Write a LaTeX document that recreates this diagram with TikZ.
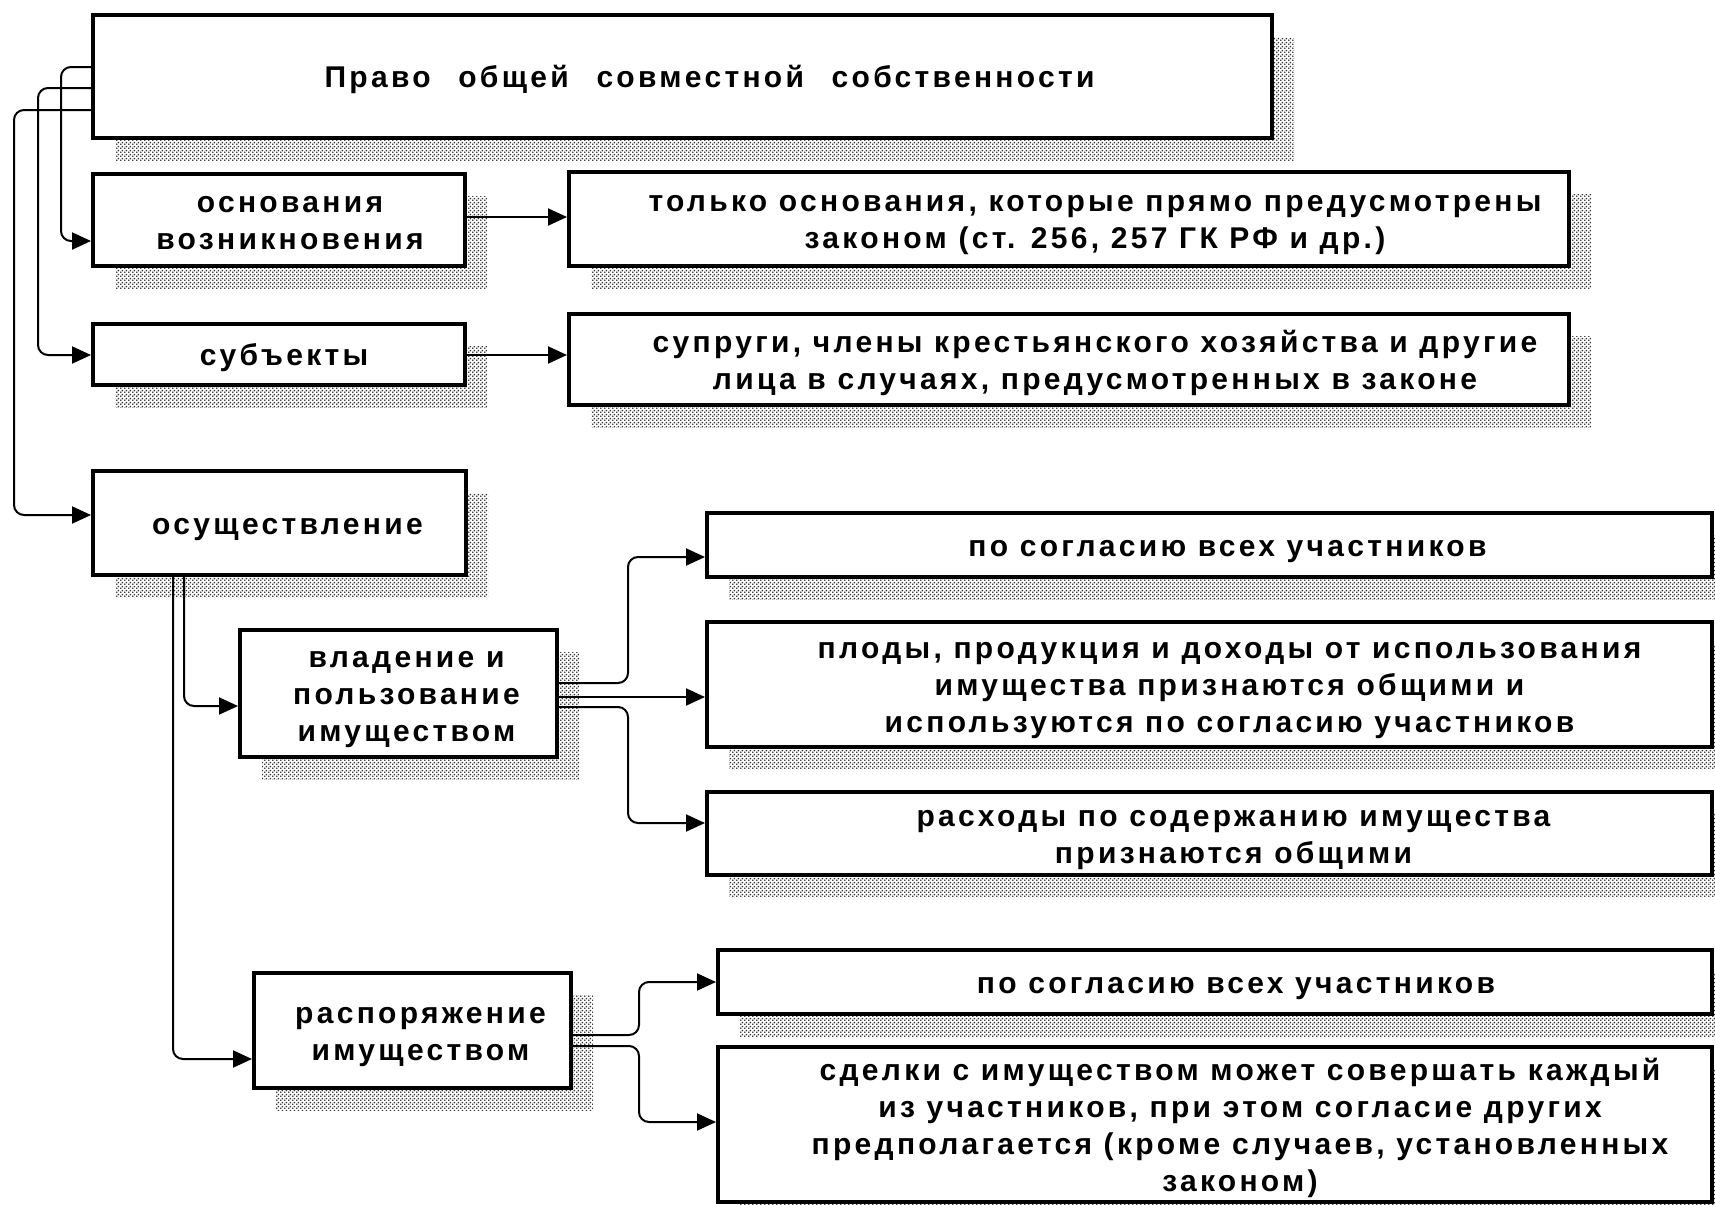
\documentclass[tikz,border=0pt]{standalone}
\usepackage{fontspec}
\setmainfont[LetterSpace=11]{Liberation Sans}
\usetikzlibrary{arrows.meta,shadows,patterns}
\newcommand\pxu{0.5pt}
\newcommand\boxtext[2][8pt]{\hspace*{#1}\raisebox{-1.9pt}[\height][\depth]{\begin{tabular}{@{}c@{}}#2\end{tabular}}}
\pgfdeclarepatternformonly{shadowdots}{\pgfpointorigin}{\pgfqpoint{2pt}{2pt}}{\pgfqpoint{2pt}{2pt}}{
  \pgfpathcircle{\pgfqpoint{0.5pt}{0.5pt}}{0.55pt}
  \pgfpathcircle{\pgfqpoint{1.5pt}{1.5pt}}{0.55pt}
  \pgfusepath{fill}}
\tikzset{
  box/.style={draw, line width=2pt, fill=white, inner sep=0pt,
    font=\fontsize{15pt}{18.5pt}\selectfont\bfseries,
    drop shadow={shadow xshift=11pt, shadow yshift=-11pt, opacity=1,
      pattern=shadowdots, pattern color=black!80}},
  link/.style={line width=1pt, rounded corners=5pt, -{Triangle[length=9.5pt,width=8.5pt]}}
}
\begin{document}
\begin{tikzpicture}[x=\pxu, y=-\pxu]
    \useasboundingbox (0,0) rectangle (1715,1205);
    \node[box, minimum width=1179*\pxu, minimum height=123*\pxu] (pravo) at (682.5,76.5) {\boxtext[27pt]{Право\hspace{8pt} общей\hspace{8pt} совместной\hspace{8pt} собственности}};
    \node[box, minimum width=372*\pxu, minimum height=92*\pxu] (osn) at (279,220) {\boxtext[11pt]{основания\\возникновения}};
    \node[box, minimum width=372*\pxu, minimum height=61*\pxu] (subj) at (279,354.5) {\boxtext[5pt]{субъекты}};
    \node[box, minimum width=1000*\pxu, minimum height=94*\pxu] (tolko) at (1069,219) {\boxtext[26pt]{только основания, которые прямо предусмотрены\\законом (ст. 256, 257 ГК РФ и др.)}};
    \node[box, minimum width=1000*\pxu, minimum height=91*\pxu] (supr) at (1069,359.5) {\boxtext[26pt]{супруги, члены крестьянского хозяйства и другие\\лица в случаях, предусмотренных в законе}};
    \node[box, minimum width=373*\pxu, minimum height=104*\pxu] (osush) at (279.5,523) {\boxtext{осуществление}};
    \node[box, minimum width=317*\pxu, minimum height=127*\pxu] (vlad) at (398.5,693.5) {\boxtext{владение и\\пользование\\имуществом}};
    \node[box, minimum width=1005*\pxu, minimum height=64*\pxu] (soglas) at (1209.5,545) {\boxtext[18pt]{по согласию всех участников}};
    \node[box, minimum width=1005*\pxu, minimum height=125*\pxu] (plody) at (1209.5,684.5) {\boxtext[20pt]{плоды, продукция и доходы от использования\\имущества признаются общими и\\используются по согласию участников}};
    \node[box, minimum width=1005*\pxu, minimum height=83*\pxu] (rask) at (1209.5,833.5) {\boxtext[24pt]{расходы по содержанию имущества\\признаются общими}};
    \node[box, minimum width=317*\pxu, minimum height=115*\pxu] (rasp) at (412.5,1030.5) {\boxtext{распоряжение\\имуществом}};
    \node[box, minimum width=994*\pxu, minimum height=64*\pxu] (soglasb) at (1215,982) {\boxtext[21pt]{по согласию всех участников}};
    \node[box, minimum width=994*\pxu, minimum height=155*\pxu] (sdelki) at (1215,1124.5) {\boxtext[25pt]{сделки с имуществом может совершать каждый\\из участников, при этом согласие других\\предполагается (кроме случаев, установленных\\законом)}};

    \draw[link] (pravo.west |- 0,67) -| (61,241) -- (osn.west |- 0,241);
    \draw[link] (pravo.west |- 0,88) -| (38,355) -- (subj.west |- 0,355);
    \draw[link] (pravo.west |- 0,110) -| (14,515) -- (osush.west |- 0,515);
    \draw[link] (osn.east |- 0,217) -- (tolko.west |- 0,217);
    \draw[link] (subj.east |- 0,355) -- (supr.west |- 0,355);
    \draw[link] (osush.south -| 184,0) |- (vlad.west |- 0,706);
    \draw[link] (osush.south -| 173,0) |- (rasp.west |- 0,1059);
    \draw[link] (vlad.east |- 0,683) -| (628,557) -- (soglas.west |- 0,557);
    \draw[link] (vlad.east |- 0,697) -- (plody.west |- 0,697);
    \draw[link] (vlad.east |- 0,707) -| (628,823) -- (rask.west |- 0,823);
    \draw[link] (rasp.east |- 0,1035) -| (639,982) -- (soglasb.west);
    \draw[link] (rasp.east |- 0,1046) -| (639,1122) -- (sdelki.west |- 0,1122);
\end{tikzpicture}
\end{document}
